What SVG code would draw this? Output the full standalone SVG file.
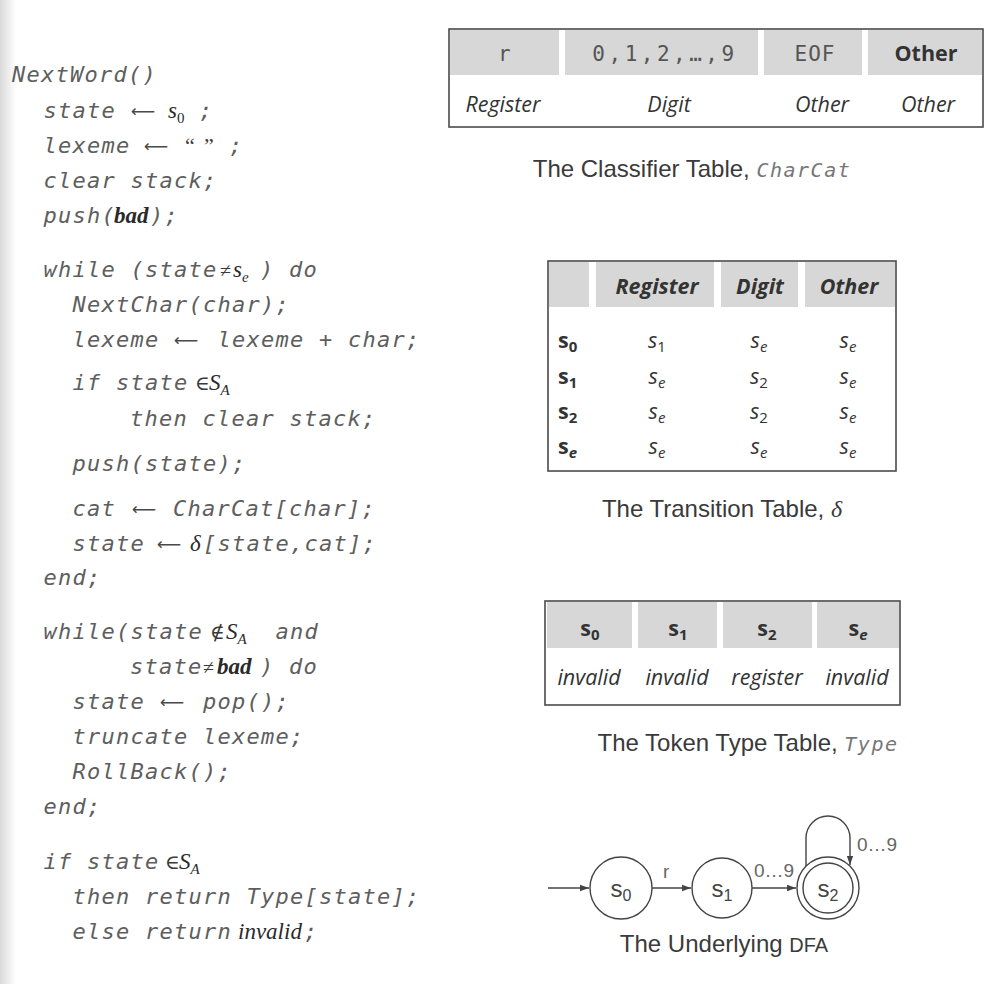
<svg xmlns="http://www.w3.org/2000/svg" width="1000" height="984" viewBox="0 0 1000 984">
<defs>
<linearGradient id="edge" x1="0" y1="0" x2="1" y2="0">
<stop offset="0" stop-color="#d9d9d9"/>
<stop offset="1" stop-color="#ffffff"/>
</linearGradient>
<marker id="ah" viewBox="0 0 10 10" refX="10" refY="5" markerWidth="9" markerHeight="9" orient="auto" markerUnits="userSpaceOnUse">
<path d="M0,1.5 L10,5 L0,8.5 z" fill="#444"/>
</marker>
</defs>
<style>
.c{font-family:"DejaVu Sans Mono","Liberation Mono",monospace;font-style:italic;font-size:22px;letter-spacing:1.25px;fill:#5e5e5e}
.m{font-family:"Liberation Serif","DejaVu Serif",serif;font-style:italic;font-size:23px;letter-spacing:0;fill:#2a2a2a}
.mb{font-family:"Liberation Serif","DejaVu Serif",serif;font-style:italic;font-weight:bold;font-size:23px;letter-spacing:0;fill:#2a2a2a}
.op{font-family:"Liberation Serif","DejaVu Serif",serif;font-style:normal;font-size:20px;letter-spacing:0;fill:#3a3a3a}
.sub{font-style:normal;font-size:15px}
.subi{font-style:italic;font-size:15px}
.ar{font-family:"DejaVu Sans",sans-serif;font-style:normal;font-size:17px;fill:#4a4a4a;text-anchor:middle}
.hd{fill:#d7d7d7}
.box{fill:none;stroke:#4a4a4a;stroke-width:1.6}
.tt{font-family:"Open Sans","Noto Sans",sans-serif;font-size:21.5px;fill:#333;text-anchor:middle}
.ti{font-style:italic}
.tb{font-weight:bold}
.mono{font-family:"DejaVu Sans Mono","Liberation Mono",monospace;font-size:21px;fill:#555;text-anchor:middle;letter-spacing:3.5px}
.cap{font-family:"Liberation Sans","Arial",sans-serif;font-size:24px;fill:#3a3a3a;text-anchor:middle}
.capm{font-family:"DejaVu Sans Mono","Liberation Mono",monospace;font-style:italic;font-size:20px;letter-spacing:1.5px;fill:#777}
.st{fill:#fff;stroke:#444;stroke-width:1.4}
.sl{font-family:"Liberation Sans","Arial",sans-serif;font-size:24px;fill:#444;text-anchor:middle}
.el{font-family:"Liberation Sans","Arial",sans-serif;font-size:19px;fill:#666}
.edge{fill:none;stroke:#444;stroke-width:1.4;marker-end:url(#ah)}
</style>
<rect x="0" y="0" width="1000" height="984" fill="#fff"/>
<rect x="0" y="0" width="16" height="984" fill="url(#edge)"/>

<g id="code">
<text class="c" x="12" y="82">NextWord()</text>
<text class="c" y="118"><tspan x="43.5">state</tspan><tspan class="m" x="168">s<tspan class="sub" dy="5">0</tspan></tspan><tspan x="199" dy="-5">;</tspan></text>
<text class="ar" x="143" y="117">⟵</text>
<text class="c" y="153"><tspan x="43.5">lexeme</tspan><tspan class="op" x="185" style="font-size:22px">“</tspan><tspan class="op" x="204" style="font-size:22px">”</tspan><tspan x="229">;</tspan></text>
<text class="ar" x="156" y="152">⟵</text>
<text class="c" x="43.5" y="188">clear stack;</text>
<text class="c" y="223"><tspan x="43.5">push(</tspan><tspan class="mb" x="114">bad</tspan><tspan x="150">);</tspan></text>
<text class="c" y="277"><tspan x="43.5">while (state</tspan><tspan class="op" x="220">≠</tspan><tspan class="m" x="233">s<tspan class="subi" dy="5">e</tspan></tspan><tspan x="260" dy="-5">) do</tspan></text>
<text class="c" x="72.5" y="312">NextChar(char);</text>
<text class="c" y="347"><tspan x="72.5">lexeme</tspan><tspan x="217.5">lexeme + char;</tspan></text>
<text class="ar" x="186" y="346">⟵</text>
<text class="c" y="390"><tspan x="72.5">if state</tspan><tspan class="op" x="195">∈</tspan><tspan class="m" x="209">S<tspan class="subi" dy="5">A</tspan></tspan></text>
<text class="c" x="130" y="426">then clear stack;</text>
<text class="c" x="72.5" y="471">push(state);</text>
<text class="c" y="516"><tspan x="72.5">cat</tspan><tspan x="173">CharCat[char];</tspan></text>
<text class="ar" x="144" y="515">⟵</text>
<text class="c" y="551"><tspan x="72.5">state</tspan><tspan class="m" x="190">δ</tspan><tspan x="203">[state,cat];</tspan></text>
<text class="ar" x="169" y="550">⟵</text>
<text class="c" x="43.5" y="585">end;</text>
<text class="c" y="639"><tspan x="43.5">while(state</tspan><tspan class="op" x="210">∉</tspan><tspan class="m" x="226">S<tspan class="subi" dy="5">A</tspan></tspan><tspan x="275.5" dy="-5">and</tspan></text>
<text class="c" y="674"><tspan x="130">state</tspan><tspan class="op" x="203">≠</tspan><tspan class="mb" x="217">bad</tspan><tspan x="260">) do</tspan></text>
<text class="c" y="709"><tspan x="72.5">state</tspan><tspan x="203">pop();</tspan></text>
<text class="ar" x="172" y="708">⟵</text>
<text class="c" x="72.5" y="744">truncate lexeme;</text>
<text class="c" x="72.5" y="779">RollBack();</text>
<text class="c" x="43.5" y="814">end;</text>
<text class="c" y="869"><tspan x="43.5">if state</tspan><tspan class="op" x="165">∈</tspan><tspan class="m" x="179">S<tspan class="subi" dy="5">A</tspan></tspan></text>
<text class="c" x="72.5" y="904">then return Type[state];</text>
<text class="c" y="939"><tspan x="72.5">else return</tspan><tspan class="m" x="238">invalid</tspan><tspan x="304">;</tspan></text>
</g>

<g id="classifier-table">
<rect class="hd" x="450" y="30" width="109" height="45"/>
<rect class="hd" x="565" y="30" width="193" height="45"/>
<rect class="hd" x="764" y="30" width="98" height="45"/>
<rect class="hd" x="868" y="30" width="114" height="45"/>
<rect class="box" x="449" y="29" width="534" height="98"/>
<text class="mono" x="506" y="61">r</text>
<text class="mono" x="665" y="61">0,1,2,…,9</text>
<text class="mono" x="815" y="61" style="letter-spacing:1px">EOF</text>
<text class="tt tb" x="926" y="61">Other</text>
<text class="tt ti" x="503" y="112">Register</text>
<text class="tt ti" x="669" y="112">Digit</text>
<text class="tt ti" x="822" y="112">Other</text>
<text class="tt ti" x="928" y="112">Other</text>
<text class="cap" x="692" y="177">The Classifier Table, <tspan class="capm">CharCat</tspan></text>
</g>

<g id="transition-table">
<rect class="hd" x="549" y="262" width="40" height="45"/>
<rect class="hd" x="596" y="262" width="118" height="45"/>
<rect class="hd" x="721" y="262" width="77" height="45"/>
<rect class="hd" x="805" y="262" width="90" height="45"/>
<rect class="box" x="548" y="261" width="348" height="210"/>
<text class="tt tb ti" x="657" y="294">Register</text>
<text class="tt tb ti" x="760" y="294">Digit</text>
<text class="tt tb ti" x="849" y="294">Other</text>
<g class="tt tb">
<text x="558" y="348" style="text-anchor:start">s<tspan class="sub" dy="4">0</tspan></text>
<text x="558" y="384" style="text-anchor:start">s<tspan class="sub" dy="4">1</tspan></text>
<text x="558" y="419" style="text-anchor:start">s<tspan class="sub" dy="4">2</tspan></text>
<text x="558" y="454" style="text-anchor:start">s<tspan class="subi" dy="4">e</tspan></text>
</g>
<g class="tt ti">
<text x="657" y="348">s<tspan class="sub" dy="4">1</tspan></text>
<text x="759" y="348">s<tspan class="subi" dy="4">e</tspan></text>
<text x="848" y="348">s<tspan class="subi" dy="4">e</tspan></text>
<text x="657" y="384">s<tspan class="subi" dy="4">e</tspan></text>
<text x="759" y="384">s<tspan class="sub" dy="4">2</tspan></text>
<text x="848" y="384">s<tspan class="subi" dy="4">e</tspan></text>
<text x="657" y="419">s<tspan class="subi" dy="4">e</tspan></text>
<text x="759" y="419">s<tspan class="sub" dy="4">2</tspan></text>
<text x="848" y="419">s<tspan class="subi" dy="4">e</tspan></text>
<text x="657" y="454">s<tspan class="subi" dy="4">e</tspan></text>
<text x="759" y="454">s<tspan class="subi" dy="4">e</tspan></text>
<text x="848" y="454">s<tspan class="subi" dy="4">e</tspan></text>
</g>
<text class="cap" x="722" y="517">The Transition Table, <tspan style="font-family:'Liberation Serif',serif;font-style:italic">δ</tspan></text>
</g>

<g id="token-table">
<rect class="hd" x="547" y="602" width="85" height="46"/>
<rect class="hd" x="638" y="602" width="79" height="46"/>
<rect class="hd" x="723" y="602" width="89" height="46"/>
<rect class="hd" x="817" y="602" width="82" height="46"/>
<rect class="box" x="545" y="601" width="355" height="104"/>
<g class="tt tb">
<text x="590" y="636">s<tspan class="sub" dy="4">0</tspan></text>
<text x="678" y="636">s<tspan class="sub" dy="4">1</tspan></text>
<text x="767" y="636">s<tspan class="sub" dy="4">2</tspan></text>
<text x="858" y="636">s<tspan class="subi" dy="4">e</tspan></text>
</g>
<g class="tt ti">
<text x="589" y="685">invalid</text>
<text x="677" y="685">invalid</text>
<text x="767" y="685">register</text>
<text x="857" y="685">invalid</text>
</g>
<text class="cap" x="748" y="751">The Token Type Table, <tspan class="capm">Type</tspan></text>
</g>

<g id="connectors">
<line class="edge" x1="548" y1="888" x2="589" y2="888"/>
<line class="edge" x1="652" y1="888" x2="691" y2="888"/>
<line class="edge" x1="752" y1="888" x2="796" y2="888"/>
<path class="edge" d="M806,866 L806,838 A22,22 0 0 1 850,838 L850,865"/>
<text class="el" x="663" y="878">r</text>
<text class="el" x="754" y="877">0…9</text>
<text class="el" x="857" y="851">0…9</text>
</g>

<g id="s0">
<circle class="st" cx="621" cy="888" r="31"/>
<text class="sl" x="621" y="897">s<tspan font-size="16" dy="4">0</tspan></text>
</g>
<g id="s1">
<circle class="st" cx="722" cy="888" r="30"/>
<text class="sl" x="722" y="897">s<tspan font-size="16" dy="4">1</tspan></text>
</g>
<g id="s2">
<circle class="st" cx="828" cy="888" r="31"/>
<circle class="st" cx="828" cy="888" r="25"/>
<text class="sl" x="828" y="897">s<tspan font-size="16" dy="4">2</tspan></text>
</g>
<text class="cap" x="724" y="952">The Underlying <tspan font-size="20">DFA</tspan></text>
</svg>
